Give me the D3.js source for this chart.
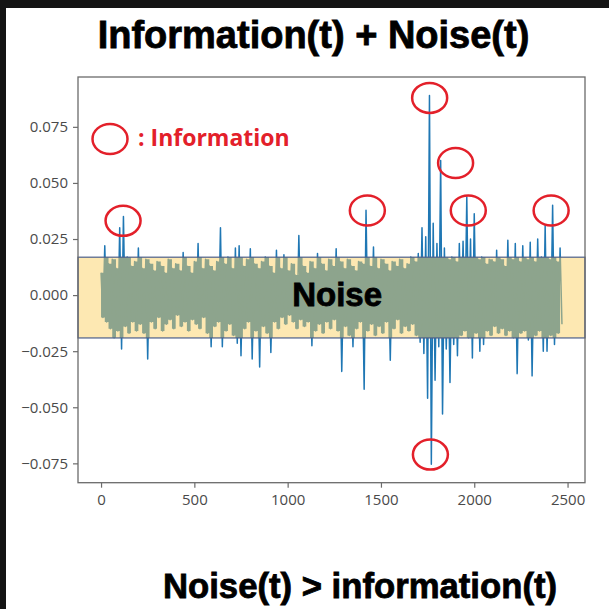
<!DOCTYPE html>
<html>
<head>
<meta charset="utf-8">
<script src="https://cdn.jsdelivr.net/npm/d3@7"></script>
<style>
  body { margin: 0; background: #fff; }
</style>
</head>
<body>
<div id="chart"></div>
<script>
// signal, summarised per bin of 20 samples:
// highest and lowest value reached inside each bin
const binSize = 20;
const binHigh = [
  0.010, 0.022, 0.014, 0.016, 0.012, 0.030, 0.035, 0.017, 0.013, 0.015,
  0.021, 0.012, 0.016, 0.014, 0.011, 0.015, 0.013, 0.010, 0.016, 0.012,
  0.014, 0.011, 0.019, 0.013, 0.010, 0.015, 0.023, 0.012, 0.016, 0.013,
  0.011, 0.015, 0.030, 0.014, 0.017, 0.012, 0.021, 0.022, 0.013, 0.016,
  0.0207, 0.014, 0.012, 0.015, 0.017, 0.013, 0.010, 0.020, 0.012, 0.018,
  0.011, 0.014, 0.009, 0.0266, 0.013, 0.010, 0.015, 0.012, 0.0185, 0.014,
  0.011, 0.016, 0.013, 0.0207, 0.015, 0.012, 0.016, 0.013, 0.011, 0.015,
  0.014, 0.0378, 0.013, 0.0214, 0.012, 0.016, 0.014, 0.011, 0.015, 0.013,
  0.016, 0.012, 0.014, 0.017, 0.015, 0.0185, 0.030, 0.026, 0.089, 0.032,
  0.023, 0.060, 0.021, 0.016, 0.017, 0.015, 0.023, 0.024, 0.0437, 0.025,
  0.0363, 0.016, 0.017, 0.014, 0.016, 0.015, 0.020, 0.016, 0.013, 0.0244,
  0.016, 0.023, 0.015, 0.022, 0.016, 0.0236, 0.015, 0.025, 0.017, 0.031,
  0.016, 0.040, 0.015, 0.021
];
const binLow = [
  -0.010, -0.012, -0.015, -0.019, -0.016, -0.024, -0.014, -0.017, -0.012, -0.016,
  -0.013, -0.017, -0.0285, -0.012, -0.015, -0.010, -0.016, -0.013, -0.011, -0.015,
  -0.009, -0.014, -0.012, -0.016, -0.011, -0.013, -0.015, -0.010, -0.017, -0.023,
  -0.014, -0.012, -0.023, -0.016, -0.013, -0.018, -0.0215, -0.027, -0.015, -0.012,
  -0.0285, -0.016, -0.032, -0.014, -0.017, -0.0256, -0.012, -0.015, -0.010, -0.013,
  -0.009, -0.012, -0.015, -0.011, -0.014, -0.012, -0.0226, -0.016, -0.013, -0.017,
  -0.012, -0.015, -0.011, -0.016, -0.034, -0.014, -0.018, -0.023, -0.015, -0.012,
  -0.042, -0.016, -0.013, -0.018, -0.014, -0.017, -0.012, -0.029, -0.015, -0.011,
  -0.017, -0.014, -0.016, -0.013, -0.018, -0.021, -0.026, -0.046, -0.0754, -0.038,
  -0.023, -0.053, -0.024, -0.039, -0.022, -0.027, -0.018, -0.016, -0.019, -0.028,
  -0.017, -0.025, -0.022, -0.016, -0.018, -0.014, -0.017, -0.015, -0.018, -0.016,
  -0.019, -0.035, -0.017, -0.016, -0.020, -0.036, -0.018, -0.016, -0.025, -0.025,
  -0.018, -0.022, -0.017, -0.013
];

// shaded "noise" band: lower and upper value
const noiseBand = [-0.0191, 0.0169];

// red circles: [sample, value] of each circled peak
const infoMarks = [
  [118, 0.0331], [1427, 0.0377], [1761, 0.0879], [1900, 0.0589],
  [1968, 0.0377], [2412, 0.0377], [1765, -0.0711]
];

const xTicks = [0, 500, 1000, 1500, 2000, 2500];
const yTicks = [-0.075, -0.05, -0.025, 0, 0.025, 0.05, 0.075];

const title = "Information(t) + Noise(t)";
const caption = "Noise(t) > information(t)";
const legendLabel = ": Information";
const bandLabel = "Noise";

const W = 609, H = 609;
const frame = { left: 78, right: 585, top: 77, bottom: 482.7 };
const red = "#e3202a";
const blue = "#1f77b4";

const svg = d3.select("#chart")
  .append("svg")
  .attr("width", W)
  .attr("height", H);

svg.append("rect").attr("width", W).attr("height", H).attr("fill", "#fff");

// dark edges of the screenshot
svg.append("rect").attr("x", 0).attr("y", 0).attr("width", W).attr("height", 8).attr("fill", "#141414");
svg.append("rect").attr("x", 0).attr("y", 0).attr("width", 6).attr("height", H).attr("fill", "#141414");

// bins and the zigzag series built from them
const bins = binHigh.map((v, i) => ({ t: i * binSize, hi: v, lo: binLow[i] }));
const signal = [];
bins.forEach(b => {
  signal.push({ t: b.t, v: b.hi });
  signal.push({ t: b.t + binSize / 2, v: b.lo });
});

// matplotlib style 5% margins
const padded = e => {
  const m = (e[1] - e[0]) * 0.05;
  return [e[0] - m, e[1] + m];
};

const x = d3.scaleLinear()
  .domain(padded(d3.extent(signal, d => d.t)))
  .range([frame.left, frame.right]);

const y = d3.scaleLinear()
  .domain(padded(d3.extent(signal, d => d.v)))
  .range([frame.bottom, frame.top]);

// dense core of the signal (the part that stays inside the band)
const core = d3.area()
  .x(d => x(d.t))
  .y0(d => y(Math.max(d.lo, noiseBand[0])))
  .y1(d => y(Math.min(d.hi, noiseBand[1])))
  .curve(d3.curveStepAfter);

svg.append("path")
  .datum(bins)
  .attr("fill", blue)
  .attr("d", core);

// the signal line with its spikes
const line = d3.line()
  .x(d => x(d.t))
  .y(d => y(d.v));

svg.append("path")
  .datum(signal)
  .attr("fill", "none")
  .attr("stroke", blue)
  .attr("stroke-width", 1.5)
  .attr("stroke-linejoin", "round")
  .attr("d", line);

// noise band
svg.append("rect")
  .attr("x", frame.left)
  .attr("width", frame.right - frame.left)
  .attr("y", y(noiseBand[1]))
  .attr("height", y(noiseBand[0]) - y(noiseBand[1]))
  .attr("fill", "#fbd166")
  .attr("fill-opacity", 0.5)
  .attr("stroke", "#4c5f8a")
  .attr("stroke-width", 1.2);

svg.append("text")
  .attr("x", x(1265))
  .attr("y", y(noiseBand[0]) - 32)
  .attr("text-anchor", "middle")
  .attr("font-family", "'Liberation Sans', Arial, sans-serif")
  .attr("font-weight", "bold")
  .attr("font-size", 33)
  .attr("fill", "#000")
  .attr("stroke", "#000")
  .attr("stroke-width", 0.8)
  .text(bandLabel);

// circled peaks
svg.append("g")
  .selectAll("ellipse")
  .data(infoMarks)
  .join("ellipse")
    .attr("cx", d => x(d[0]))
    .attr("cy", d => y(d[1]))
    .attr("rx", 17.5)
    .attr("ry", 15)
    .attr("fill", "none")
    .attr("stroke", red)
    .attr("stroke-width", 2.5);

// legend
svg.append("ellipse")
  .attr("cx", frame.left + 32)
  .attr("cy", frame.top + 62)
  .attr("rx", 17.5)
  .attr("ry", 15)
  .attr("fill", "none")
  .attr("stroke", red)
  .attr("stroke-width", 2.5);

svg.append("text")
  .attr("x", frame.left + 60)
  .attr("y", frame.top + 69)
  .attr("font-family", "'Open Sans', sans-serif")
  .attr("font-weight", "bold")
  .attr("font-size", 23)
  .attr("fill", red)
  .text(legendLabel);

// frame
svg.append("rect")
  .attr("x", frame.left)
  .attr("y", frame.top)
  .attr("width", frame.right - frame.left)
  .attr("height", frame.bottom - frame.top)
  .attr("fill", "none")
  .attr("stroke", "#6b6b6b")
  .attr("stroke-width", 1.3);

// axes
const styleAxis = g => {
  g.select(".domain").remove();
  g.selectAll("line").attr("stroke", "#6b6b6b").attr("stroke-width", 1.2);
  g.selectAll("text")
    .attr("fill", "#4a4a4a")
    .attr("font-family", "'Open Sans', sans-serif")
    .attr("font-size", 15);
};

svg.append("g")
  .attr("transform", `translate(0,${frame.bottom})`)
  .call(d3.axisBottom(x).tickValues(xTicks).tickSize(5).tickPadding(7).tickFormat(d3.format("d")))
  .call(styleAxis);

svg.append("g")
  .attr("transform", `translate(${frame.left},0)`)
  .call(d3.axisLeft(y).tickValues(yTicks).tickSize(5).tickPadding(5).tickFormat(d3.format(".3f")))
  .call(styleAxis);

// headings
svg.append("text")
  .attr("x", 313.5)
  .attr("y", 48)
  .attr("text-anchor", "middle")
  .attr("font-family", "'Liberation Sans', Arial, sans-serif")
  .attr("font-weight", "bold")
  .attr("font-size", 38)
  .attr("fill", "#000")
  .attr("stroke", "#000")
  .attr("stroke-width", 0.8)
  .text(title);

svg.append("text")
  .attr("x", 360)
  .attr("y", 598)
  .attr("text-anchor", "middle")
  .attr("font-family", "'Liberation Sans', Arial, sans-serif")
  .attr("font-weight", "bold")
  .attr("font-size", 34.7)
  .attr("fill", "#000")
  .attr("stroke", "#000")
  .attr("stroke-width", 0.8)
  .text(caption);
</script>
</body>
</html>
